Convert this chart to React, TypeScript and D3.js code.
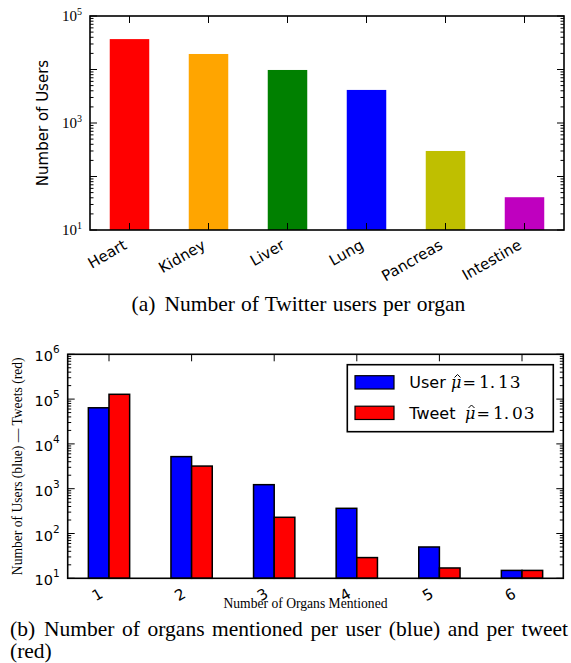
import React from "react";
import * as d3 from "d3";

// ---- data: panel (a) ----
const organs = ["Heart", "Kidney", "Liver", "Lung", "Pancreas", "Intestine"];
const organUsers = [37000, 19500, 9800, 4150, 300, 41];
const organColors = ["#ff0000", "#ffa500", "#008000", "#0000ff", "#bfbf00", "#bf00bf"];

// ---- data: panel (b) ----
const organCounts = ["1", "2", "3", "4", "5", "6"];
const usersPerCount = [64000, 5200, 1230, 365, 50, 15];
const tweetsPerCount = [128000, 3200, 230, 29, 17, 15];
const legendLabels = ["User", "Tweet"];
const legendMeanInt = ["1.", "1."];
const legendMeanFrac = ["13", "03"];
const seriesColors = ["#0000ff", "#ff0000"];

const captionA = "Number of Twitter users per organ";
const captionB1 = "Number of organs mentioned per user (blue) and per tweet";
const captionB2 = "(red)";

const SERIF = "'Liberation Serif', 'Times New Roman', serif";
const MATH = "'DejaVu Serif', 'Liberation Serif', serif";
const SANS = "'DejaVu Sans', 'Bitstream Vera Sans', sans-serif";

function isMajor(v: number) {
  const e = Math.log10(v);
  return Math.abs(e - Math.round(e)) < 1e-9;
}

function LogTicks({ y, x0, x1, major = 7, minor = 3.5 }: any) {
  const ticks: number[] = y.ticks();
  return (
    <g stroke="#000" strokeWidth={1}>
      {ticks.map((t, i) => {
        const len = isMajor(t) ? major : minor;
        const yy = y(t);
        return (
          <g key={i}>
            <line x1={x0} x2={x0 + len} y1={yy} y2={yy} />
            <line x1={x1} x2={x1 - len} y1={yy} y2={yy} />
          </g>
        );
      })}
    </g>
  );
}

export default function App() {
  // ---------- panel (a) ----------
  const A = { l: 90, r: 564, t: 16, b: 230 };
  const xA = d3.scaleBand<string>().domain(organs).range([A.l, A.r]);
  const yA = d3.scaleLog().domain([10, 1e5]).range([A.b, A.t]);
  const bwA = xA.bandwidth() * 0.5;
  const centerA = (c: string) => (xA(c) as number) + xA.bandwidth() / 2;
  const labelDecadesA = [1, 3, 5];

  // ---------- panel (b) ----------
  const B = { l: 67.7, r: 563.3, t: 354.3, b: 578.3 };
  const xB = d3.scaleBand<string>().domain(organCounts).range([B.l, B.r]);
  const yB = d3.scaleLog().domain([10, 1e6]).range([B.b, B.t]);
  const bwB = xB.bandwidth() * 0.25;
  const centerB = (c: string) => (xB(c) as number) + xB.bandwidth() / 2;
  const decadesB = yB.ticks().filter(isMajor);

  const series = [usersPerCount, tweetsPerCount];

  // legend layout (x of math part per row)
  const legMuX = [451, 465];

  return (
    <svg
      width={571}
      height={663}
      style={{ position: "absolute", left: 0, top: 0, background: "#fff" }}
    >
      <rect width={571} height={663} fill="#fff" />
      {/* ===== Panel (a) ===== */}
      <g>
        {organs.map((o, i) => (
          <rect
            key={o}
            x={centerA(o) - bwA / 2}
            width={bwA}
            y={yA(organUsers[i])}
            height={A.b - yA(organUsers[i])}
            fill={organColors[i]}
          />
        ))}
        <LogTicks y={yA} x0={A.l} x1={A.r} />
        <g stroke="#000" strokeWidth={1}>
          {organs.map((o) => (
            <g key={o}>
              <line x1={centerA(o)} x2={centerA(o)} y1={A.t} y2={A.t + 7} />
              <line x1={centerA(o)} x2={centerA(o)} y1={A.b} y2={A.b - 7} />
            </g>
          ))}
        </g>
        <rect
          x={A.l}
          y={A.t}
          width={A.r - A.l}
          height={A.b - A.t}
          fill="none"
          stroke="#000"
          strokeWidth={1.6}
        />
        {labelDecadesA.map((e) => (
          <text
            key={e}
            x={A.l - 8}
            y={yA(10 ** e) + 5}
            textAnchor="end"
            fontFamily={SERIF}
            fontSize={15}
          >
            10
            <tspan fontSize={10} dy={-6}>
              {e}
            </tspan>
          </text>
        ))}
        <text
          transform={`translate(48,${(A.t + A.b) / 2}) rotate(-90)`}
          textAnchor="middle"
          fontFamily={SANS}
          fontSize={15}
        >
          Number of Users
        </text>
        {organs.map((o) => (
          <text
            key={o}
            transform={`translate(${centerA(o) - 1.7},248) rotate(-30)`}
            textAnchor="end"
            fontFamily={SANS}
            fontSize={15}
          >
            {o}
          </text>
        ))}
        <text x={131.5} y={311} fontFamily={SERIF} fontSize={21.5} wordSpacing={0.8}>
          (a)
          <tspan dx={9}>{captionA}</tspan>
        </text>
      </g>

      {/* ===== Panel (b) ===== */}
      <g>
        <LogTicks y={yB} x0={B.l} x1={B.r} />
        <g stroke="#000" strokeWidth={1}>
          {organCounts.map((c) => (
            <g key={c}>
              <line x1={centerB(c)} x2={centerB(c)} y1={B.t} y2={B.t + 7} />
              <line x1={centerB(c)} x2={centerB(c)} y1={B.b} y2={B.b - 7} />
            </g>
          ))}
        </g>
        {series.map((vals, s) =>
          organCounts.map((c, i) => (
            <rect
              key={`${s}-${c}`}
              x={centerB(c) - bwB + s * bwB}
              width={bwB}
              y={yB(vals[i])}
              height={B.b - yB(vals[i])}
              fill={seriesColors[s]}
              stroke="#000"
              strokeWidth={1.5}
            />
          ))
        )}
        <rect
          x={B.l}
          y={B.t}
          width={B.r - B.l}
          height={B.b - B.t}
          fill="none"
          stroke="#000"
          strokeWidth={1.6}
        />
        {decadesB.map((v) => {
          const e = Math.round(Math.log10(v));
          return (
            <text
              key={e}
              x={B.l - 8}
              y={yB(v) + 7}
              textAnchor="end"
              fontFamily={SANS}
              fontSize={14.5}
            >
              10
              <tspan fontSize={10.5} dy={-8}>
                {e}
              </tspan>
            </text>
          );
        })}
        {organCounts.map((c) => (
          <text
            key={c}
            transform={`translate(${centerB(c) - 9},599) rotate(-30)`}
            textAnchor="middle"
            fontFamily={SANS}
            fontSize={15}
          >
            {c}
          </text>
        ))}
        <text
          x={305.5}
          y={608}
          textAnchor="middle"
          fontFamily={SERIF}
          fontSize={13.6}
        >
          Number of Organs Mentioned
        </text>
        <text
          transform={`translate(22,${(B.t + B.b) / 2}) rotate(-90)`}
          textAnchor="middle"
          fontFamily={SERIF}
          fontSize={13.6}
        >
          Number of Users (blue) — Tweets (red)
        </text>

        {/* legend */}
        <rect
          x={347.3}
          y={364.7}
          width={206}
          height={67}
          fill="#fff"
          stroke="#000"
          strokeWidth={1.6}
        />
        {legendLabels.map((lab, i) => {
          const by = 388 + i * 30.5;
          const mx = legMuX[i];
          return (
            <g key={lab}>
              <rect
                x={355}
                y={375.7 + i * 30.5}
                width={39}
                height={13.3}
                fill={seriesColors[i]}
                stroke="#000"
                strokeWidth={1.2}
              />
              <text x={409.3} y={by} fontFamily={SANS} fontSize={16}>
                {lab}
              </text>
              <text x={mx} y={by} fontFamily={MATH} fontStyle="italic" fontSize={16}>
                {"\u03bc"}
              </text>
              <path
                d={`M${mx + 3.5},${by - 10.5} L${mx + 6.5},${by - 13.5} L${mx + 9.5},${by - 10.5}`}
                fill="none"
                stroke="#000"
                strokeWidth={1}
              />
              <text x={mx + 11.5} y={by} fontFamily={MATH} fontSize={16}>
                {"="}
              </text>
              <text x={mx + 28} y={by} fontFamily={MATH} fontSize={17}>
                {legendMeanInt[i]}
              </text>
              <text x={mx + 47} y={by} fontFamily={MATH} fontSize={17} letterSpacing={1}>
                {legendMeanFrac[i]}
              </text>
            </g>
          );
        })}

        <text x={10} y={636} fontFamily={SERIF} fontSize={21.5} wordSpacing={2.2}>
          (b)
          <tspan dx={9}>{captionB1}</tspan>
        </text>
        <text x={10} y={658} fontFamily={SERIF} fontSize={21.5}>
          {captionB2}
        </text>
      </g>
    </svg>
  );
}
